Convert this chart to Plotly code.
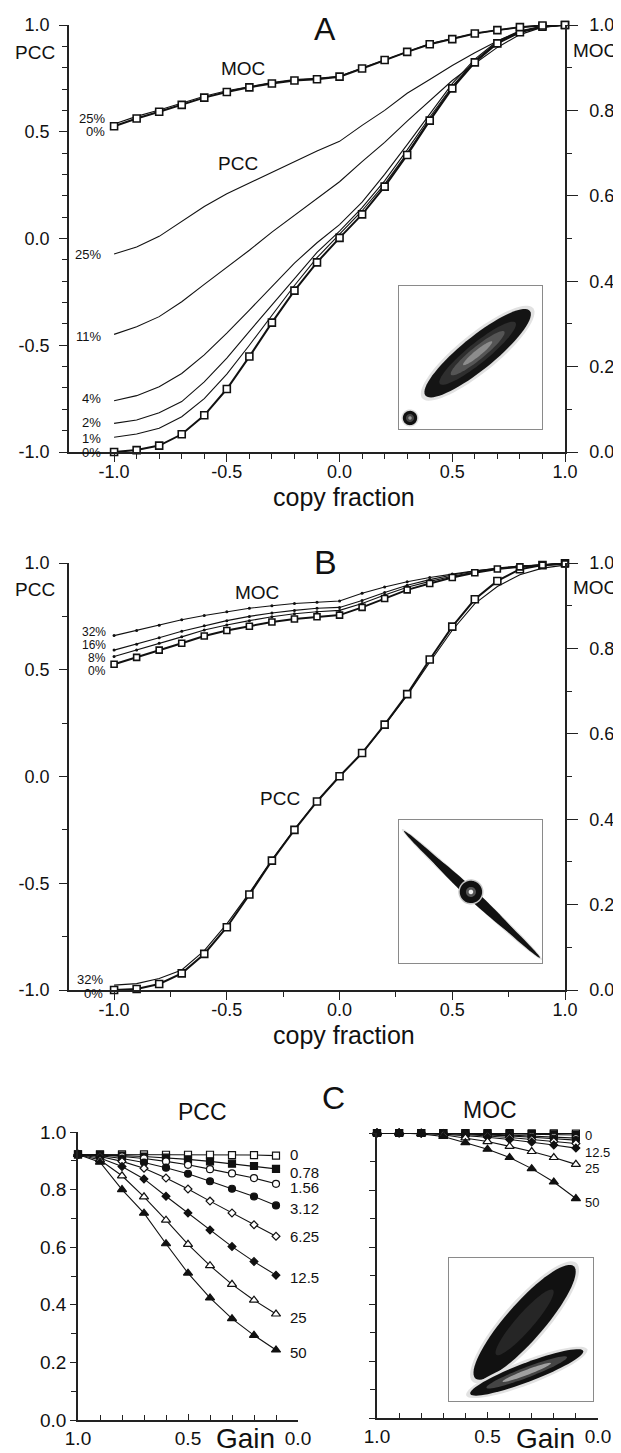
import numpy as np
import plotly.graph_objects as go

# the page body has an 8 px margin, so the figure is drawn 8 px in and 8 px down
PAGE_OFF = 8
W, H = 621 - PAGE_OFF, 1453 - PAGE_OFF
FONT = "Arial, Liberation Sans, sans-serif"
INK = "#111111"

# ---------------- data ----------------
copy_fraction = [-1.0, -0.9, -0.8, -0.7, -0.6, -0.5, -0.4, -0.3, -0.2, -0.1, 0.0,
                 0.1, 0.2, 0.3, 0.4, 0.5, 0.6, 0.7, 0.8, 0.9, 1.0]

# panel A: MOC (right axis) and PCC (left axis) for different noise levels
a_moc_0 = [0.763, 0.781, 0.797, 0.813, 0.830, 0.843, 0.854, 0.863, 0.870, 0.873, 0.879,
           0.898, 0.918, 0.937, 0.955, 0.967, 0.980, 0.988, 0.995, 0.999, 1.0]
a_moc_25 = [0.768, 0.786, 0.801, 0.817, 0.833, 0.846, 0.856, 0.865, 0.872, 0.875, 0.880,
            0.899, 0.919, 0.938, 0.956, 0.968, 0.980, 0.988, 0.995, 0.999, 1.0]
a_pcc_0 = [-1.0, -0.991, -0.970, -0.917, -0.828, -0.705, -0.553, -0.394, -0.244, -0.112, 0.003,
           0.113, 0.243, 0.391, 0.552, 0.703, 0.825, 0.914, 0.966, 0.992, 1.0]
a_pcc_1 = [-0.931, -0.916, -0.889, -0.835, -0.750, -0.635, -0.500, -0.360, -0.220, -0.090, 0.020,
           0.130, 0.255, 0.400, 0.558, 0.707, 0.828, 0.916, 0.967, 0.992, 1.0]
a_pcc_2 = [-0.866, -0.850, -0.816, -0.764, -0.672, -0.560, -0.435, -0.310, -0.185, -0.065, 0.035,
           0.145, 0.270, 0.415, 0.568, 0.713, 0.833, 0.920, 0.970, 0.993, 1.0]
a_pcc_4 = [-0.760, -0.736, -0.694, -0.632, -0.545, -0.443, -0.335, -0.225, -0.115, -0.020, 0.065,
           0.170, 0.300, 0.440, 0.585, 0.725, 0.840, 0.925, 0.973, 0.994, 1.0]
a_pcc_11 = [-0.449, -0.413, -0.366, -0.296, -0.215, -0.135, -0.055, 0.030, 0.110, 0.190, 0.266,
            0.360, 0.450, 0.550, 0.645, 0.740, 0.820, 0.895, 0.955, 0.990, 1.0]
a_pcc_25 = [-0.073, -0.040, 0.010, 0.080, 0.150, 0.210, 0.260, 0.310, 0.360, 0.410, 0.455,
            0.530, 0.600, 0.680, 0.745, 0.810, 0.870, 0.925, 0.970, 0.990, 1.0]

# panel B
b_moc_0 = [0.763, 0.779, 0.796, 0.812, 0.829, 0.842, 0.852, 0.862, 0.869, 0.874, 0.878,
           0.896, 0.917, 0.937, 0.952, 0.966, 0.977, 0.986, 0.991, 0.995, 0.998]
b_moc_8 = [0.781, 0.796, 0.812, 0.827, 0.843, 0.855, 0.865, 0.874, 0.881, 0.886, 0.889,
           0.905, 0.925, 0.943, 0.957, 0.969, 0.979, 0.987, 0.992, 0.996, 0.998]
b_moc_16 = [0.796, 0.810, 0.825, 0.840, 0.853, 0.865, 0.875, 0.883, 0.889, 0.894, 0.896,
            0.912, 0.931, 0.948, 0.961, 0.972, 0.981, 0.988, 0.993, 0.996, 0.999]
b_moc_32 = [0.830, 0.842, 0.854, 0.867, 0.877, 0.886, 0.894, 0.900, 0.905, 0.908, 0.911,
            0.929, 0.944, 0.956, 0.966, 0.974, 0.982, 0.987, 0.992, 0.995, 0.999]
b_pcc_0 = [-1.0, -0.995, -0.972, -0.922, -0.831, -0.706, -0.553, -0.394, -0.250, -0.117, 0.001,
           0.110, 0.243, 0.386, 0.548, 0.702, 0.830, 0.916, 0.971, 0.990, 0.999]
b_pcc_32 = [-0.977, -0.970, -0.946, -0.906, -0.816, -0.690, -0.545, -0.390, -0.247, -0.115, 0.0,
            0.110, 0.240, 0.380, 0.535, 0.685, 0.810, 0.890, 0.945, 0.976, 0.990]

# panel C: gain series for different offsets
gain = [1.0, 0.9, 0.8, 0.7, 0.6, 0.5, 0.4, 0.3, 0.2, 0.1]
offset_labels = ["0", "0.78", "1.56", "3.12", "6.25", "12.5", "25", "50"]
c_pcc_0 = [0.922, 0.922, 0.922, 0.922, 0.921, 0.921, 0.921, 0.920, 0.920, 0.918]
c_pcc_078 = [0.922, 0.921, 0.918, 0.915, 0.911, 0.905, 0.898, 0.890, 0.882, 0.872]
c_pcc_156 = [0.922, 0.920, 0.915, 0.908, 0.898, 0.886, 0.871, 0.856, 0.840, 0.820]
c_pcc_312 = [0.922, 0.918, 0.908, 0.894, 0.876, 0.855, 0.829, 0.803, 0.776, 0.745]
c_pcc_625 = [0.922, 0.915, 0.898, 0.874, 0.840, 0.802, 0.760, 0.719, 0.678, 0.638]
c_pcc_125 = [0.922, 0.910, 0.880, 0.837, 0.777, 0.719, 0.660, 0.602, 0.550, 0.503]
c_pcc_25 = [0.922, 0.903, 0.848, 0.775, 0.694, 0.610, 0.536, 0.471, 0.416, 0.368]
c_pcc_50 = [0.922, 0.895, 0.800, 0.718, 0.612, 0.510, 0.424, 0.352, 0.294, 0.243]

c_moc_0 = [1.0, 1.0, 1.0, 1.0, 1.0, 1.0, 1.0, 0.999, 0.999, 0.998]
c_moc_078 = [1.0, 1.0, 1.0, 1.0, 0.999, 0.998, 0.997, 0.996, 0.995, 0.993]
c_moc_156 = [1.0, 1.0, 1.0, 0.999, 0.998, 0.996, 0.993, 0.990, 0.986, 0.982]
c_moc_312 = [1.0, 1.0, 1.0, 0.999, 0.997, 0.994, 0.990, 0.985, 0.980, 0.975]
c_moc_625 = [1.0, 1.0, 0.999, 0.998, 0.995, 0.990, 0.984, 0.977, 0.970, 0.963]
c_moc_125 = [1.0, 1.0, 0.999, 0.996, 0.991, 0.985, 0.977, 0.968, 0.958, 0.947]
c_moc_25 = [1.0, 1.0, 0.999, 0.994, 0.983, 0.970, 0.953, 0.935, 0.914, 0.890]
c_moc_50 = [1.0, 1.0, 0.997, 0.988, 0.966, 0.943, 0.914, 0.875, 0.828, 0.770]

c_pcc_series = [c_pcc_0, c_pcc_078, c_pcc_156, c_pcc_312, c_pcc_625, c_pcc_125, c_pcc_25, c_pcc_50]
c_moc_series = [c_moc_0, c_moc_078, c_moc_156, c_moc_312, c_moc_625, c_moc_125, c_moc_25, c_moc_50]
c_symbols = ["square", "square", "circle", "circle", "diamond", "diamond", "triangle-up", "triangle-up"]
c_filled = [False, True, False, True, False, True, False, True]


# page pixel -> paper fraction
def fx(px):
    return (px - PAGE_OFF) / W


def fy(py):
    return 1 - (py - PAGE_OFF) / H


fig = go.Figure()


def thin(x, y, xa, ya, width=1.1):
    fig.add_trace(go.Scatter(x=x, y=y, xaxis=xa, yaxis=ya, mode="lines",
                             line=dict(color=INK, width=width), cliponaxis=False))


def boxed(x, y, xa, ya, size=7):
    fig.add_trace(go.Scatter(x=x, y=y, xaxis=xa, yaxis=ya, mode="lines+markers",
                             line=dict(color=INK, width=2),
                             marker=dict(symbol="square", size=size, color="white",
                                         line=dict(color=INK, width=1.6)),
                             cliponaxis=False))


# panel A
for s in [a_pcc_25, a_pcc_11, a_pcc_4, a_pcc_2, a_pcc_1]:
    thin(copy_fraction, s, "x", "y")
boxed(copy_fraction, a_pcc_0, "x", "y")
thin(copy_fraction, a_moc_25, "x", "y2")
boxed(copy_fraction, a_moc_0, "x", "y2")

# panel B
for s in [b_moc_32, b_moc_16, b_moc_8]:
    fig.add_trace(go.Scatter(x=copy_fraction, y=s, xaxis="x2", yaxis="y4", mode="lines+markers",
                             line=dict(color=INK, width=1.1),
                             marker=dict(size=3, color=INK), cliponaxis=False))
boxed(copy_fraction, b_moc_0, "x2", "y4", size=6)
thin(copy_fraction, b_pcc_32, "x2", "y3")
boxed(copy_fraction, b_pcc_0, "x2", "y3")

# panel C
for series_list, xa, ya in [(c_pcc_series, "x3", "y5"), (c_moc_series, "x4", "y6")]:
    for s, sym, filled in zip(series_list, c_symbols, c_filled):
        size = 8 if sym.startswith("triangle") else (6 if sym == "diamond" else 7)
        fig.add_trace(go.Scatter(x=gain, y=s, xaxis=xa, yaxis=ya, mode="lines+markers",
                                 line=dict(color=INK, width=1.1),
                                 marker=dict(symbol=sym, size=size,
                                             color=INK if filled else "white",
                                             line=dict(color=INK, width=1.2)),
                                 cliponaxis=False))


def axis(domain, rng, tickvals, ticktext, minor_vals, fsize=18, ticks="outside", **kw):
    d = dict(domain=domain, range=rng, tickvals=tickvals, ticktext=ticktext,
             automargin=False,
             ticks=ticks, ticklen=8, tickwidth=1.4, tickcolor="#222",
             showline=True, linecolor="#222", linewidth=1.5,
             showgrid=False, zeroline=False,
             tickfont=dict(size=fsize, color=INK, family=FONT),
             minor=dict(tickvals=minor_vals, ticks=ticks, ticklen=5,
                        tickwidth=1.2, tickcolor="#222", showgrid=False))
    d.update(kw)
    return d


pm1 = [-1, -0.5, 0, 0.5, 1]
pm1_txt = ["-1.0", "-0.5", "0.0", "0.5", "1.0"]
tenths = [round(-1 + 0.1 * i, 1) for i in range(21)]
minor_tenths = [v for v in tenths if v not in pm1]
quarters_minor = [-0.75, -0.25, 0.25, 0.75]
moc_ticks = [0, 0.2, 0.4, 0.6, 0.8, 1.0]
moc_txt = ["0.0", "0.2", "0.4", "0.6", "0.8", "1.0"]
moc_minor = [0.1, 0.3, 0.5, 0.7, 0.9]
gain_minor = [0.9, 0.8, 0.7, 0.6, 0.4, 0.3, 0.2, 0.1]

dom_x_ab = [fx(69), fx(565)]
dom_y_a = [fy(452), fy(25)]
dom_y_b = [fy(990), fy(563)]

layout = dict(
    width=W, height=H, margin=dict(l=0, r=0, t=0, b=0, autoexpand=False),
    paper_bgcolor="white", plot_bgcolor="rgba(0,0,0,0)", showlegend=False,
    font=dict(family=FONT, color=INK),
    xaxis=axis(dom_x_ab, [-1.2, 1.0], pm1, pm1_txt, minor_tenths, anchor="y",
               ticklabelstandoff=-5),
    yaxis=axis(dom_y_a, [-1, 1], pm1, pm1_txt, minor_tenths, anchor="x",
               ticklabelstandoff=6),
    yaxis2=axis(dom_y_a, [0, 1], moc_ticks, moc_txt, moc_minor, anchor="x",
                overlaying="y", side="right", ticklen=11, ticklabelstandoff=8),
    xaxis2=axis(dom_x_ab, [-1.2, 1.0], pm1, pm1_txt, quarters_minor, anchor="y3",
                ticklabelstandoff=-5),
    yaxis3=axis(dom_y_b, [-1, 1], pm1, pm1_txt, quarters_minor, anchor="x2",
                ticklabelstandoff=6),
    yaxis4=axis(dom_y_b, [0, 1], moc_ticks, moc_txt, moc_minor, anchor="x2",
                overlaying="y3", side="right", ticklen=11, ticklabelstandoff=8),
    xaxis3=axis([fx(78), fx(298)], [1.0, 0.0], [1.0, 0.5, 0.0], ["1.0", "0.5", "0.0"],
                gain_minor, fsize=19, ticks="inside", anchor="y5", ticklen=6),
    yaxis5=axis([fy(1420), fy(1132)], [0, 1], moc_ticks, moc_txt, moc_minor,
                fsize=19, anchor="x3", ticklen=6),
    xaxis4=axis([fx(377), fx(598)], [1.0, 0.0], [1.0, 0.5, 0.0], ["1.0", "0.5", "0.0"],
                gain_minor, fsize=19, ticks="inside", anchor="y6", ticklen=6),
    yaxis6=axis([fy(1418), fy(1133)], [0, 1], moc_ticks, moc_txt, moc_minor,
                fsize=19, anchor="x4", ticklen=6, showticklabels=False),
)

# inset frames (cytofluorogram thumbnails)
insets = [("xaxis5", "yaxis7", "y7", [399, 542], [286, 429]),
          ("xaxis6", "yaxis8", "y8", [399, 542], [820, 963]),
          ("xaxis7", "yaxis9", "y9", [449, 593], [1258, 1401])]
for xname, yname, yref, (x0, x1), (y0, y1) in insets:
    common = dict(range=[0, 1], showline=True, mirror=True, linecolor="#8a8a8a",
                  linewidth=1.2, showticklabels=False, ticks="", showgrid=False,
                  zeroline=False, automargin=False)
    layout[xname] = dict(domain=[fx(x0), fx(x1)], anchor=yref, **common)
    layout[yname] = dict(domain=[fy(y1), fy(y0)], anchor="x" + xname[5:], **common)

fig.update_layout(**layout)


def ellipse(cx, cy, a, b, ang, color, xref, yref):
    t = np.linspace(0, 2 * np.pi, 72)
    r = np.radians(ang)
    xs = cx + a * np.cos(t) * np.cos(r) - b * np.sin(t) * np.sin(r)
    ys = cy + a * np.cos(t) * np.sin(r) + b * np.sin(t) * np.cos(r)
    path = "M " + " L ".join(f"{x:.4f},{y:.4f}" for x, y in zip(xs, ys)) + " Z"
    fig.add_shape(type="path", path=path, xref=xref, yref=yref,
                  fillcolor=color, line=dict(width=0), layer="above")


# inset A: elongated positive cloud plus a small blob
for a, b, col in [(0.50, 0.135, "#e2e2e2"), (0.47, 0.115, "#141414"), (0.34, 0.07, "#2e2e2e"),
                  (0.24, 0.045, "#555"), (0.13, 0.022, "#8c8c8c")]:
    ellipse(0.55, 0.53, a, b, 39, col, "x5", "y7")
for r, col in [(0.06, "#dcdcdc"), (0.05, "#111"), (0.028, "#444"), (0.012, "#9a9a9a")]:
    ellipse(0.077, 0.077, r, r, 0, col, "x5", "y7")

# inset B: thin negative streak with a central spot
for a, b, col in [(0.67, 0.036, "#e0e0e0"), (0.65, 0.026, "#111"), (0.42, 0.036, "#111")]:
    ellipse(0.51, 0.48, a, b, -43, col, "x6", "y8")
for r, col in [(0.088, "#c8c8c8"), (0.078, "#111"), (0.035, "#555"), (0.016, "#eee")]:
    ellipse(0.503, 0.497, r, r, 0, col, "x6", "y8")

# inset C: two clouds
for a, b, col in [(0.55, 0.15, "#e2e2e2"), (0.52, 0.13, "#111"), (0.3, 0.06, "#262626")]:
    ellipse(0.525, 0.55, a, b, 49, col, "x7", "y9")
for a, b, col in [(0.45, 0.085, "#e2e2e2"), (0.42, 0.066, "#111"), (0.3, 0.036, "#444"),
                  (0.18, 0.018, "#a0a0a0")]:
    ellipse(0.54, 0.2, a, b, 21, col, "x7", "y9")


def label(text, x, y, size=14, xanchor="center"):
    fig.add_annotation(text=text, x=fx(x), y=fy(y), xref="paper", yref="paper",
                       xanchor=xanchor, yanchor="middle", showarrow=False,
                       font=dict(size=size, family=FONT, color=INK))


# panel A texts
label("A", 325, 29, 32)
label("PCC", 57, 52, 19, "right")
label("MOC", 571, 50, 19, "left")
label("MOC", 243, 69, 19)
label("PCC", 238, 164, 19)
label("copy fraction", 344, 497, 25)
for t, y in [("25%", 118), ("0%", 132)]:
    label(t, 107, y, 13, "right")
for t, y in [("25%", 255), ("11%", 336), ("4%", 399), ("2%", 423), ("1%", 438), ("0%", 452)]:
    label(t, 103, y, 13, "right")

# panel B texts
label("B", 325, 562, 34)
label("PCC", 57, 590, 19, "right")
label("MOC", 571, 588, 19, "left")
label("MOC", 257, 592, 19)
label("PCC", 280, 798, 19)
label("copy fraction", 344, 1035, 25)
for t, y in [("32%", 632), ("16%", 645), ("8%", 658), ("0%", 671)]:
    label(t, 108, y, 12, "right")
for t, y in [("32%", 979), ("0%", 993)]:
    label(t, 105, y, 13, "right")

# panel C texts
label("C", 333, 1098, 32)
label("PCC", 202, 1112, 23)
label("MOC", 490, 1110, 23)
label("Gain", 245, 1438, 28)
label("Gain", 545, 1438, 28)
for t, y in zip(offset_labels, [1154, 1172, 1187, 1208, 1236, 1277, 1317, 1352]):
    label(t, 288, y, 15, "left")
for t, y in [("0", 1135), ("12.5", 1152), ("25", 1168), ("50", 1202)]:
    label(t, 583, y, 13, "left")

fig.write_html("out.html")
